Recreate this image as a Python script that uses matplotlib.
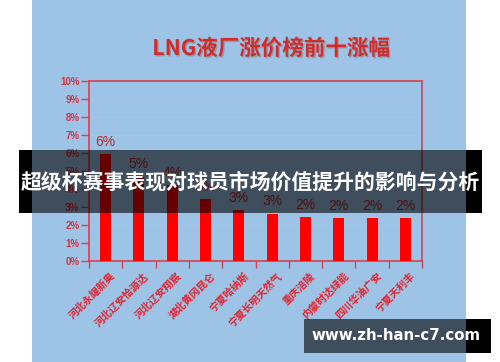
import matplotlib
matplotlib.use('Agg')
import matplotlib.pyplot as plt
import matplotlib.patheffects as pe
from matplotlib.patches import Rectangle
import numpy as np

plt.rcParams['font.family'] = ['Noto Sans CJK SC', 'DejaVu Sans']

# LNG plants, top ten price rises (%)
plants = ['河北永耀新奥', '河北辽安恰源达', '河北辽安翔宸', '湖北黄冈昆仑', '宁夏哈纳斯',
          '宁夏长明天然气', '重庆涪陵', '内蒙时达绿能', '四川华油广安', '宁夏天利丰']
rise = [5.94, 4.67, 4.2, 3.44, 2.83, 2.63, 2.43, 2.37, 2.37, 2.37]
yticks = [0, 1, 2, 3, 4, 5, 6, 7, 8, 9, 10]

title = 'LNG液厂涨价榜前十涨幅'
banner = '超级杯赛事表现对球员市场价值提升的影响与分析'
site = 'www.zh-han-c7.com'

blue = '#9DC3E6'
frame = '#D8404C'

fig = plt.figure(figsize=(5, 3.62), dpi=100, facecolor='white')
fig.patches.append(Rectangle((0.064, 0), 0.868, 1, transform=fig.transFigure,
                             facecolor=blue, edgecolor='none', zorder=-2))

ax = fig.add_axes([0.178, 0.279, 0.666, 0.497])
ax.set_facecolor('none')
x = np.arange(len(plants))
bars = ax.bar(x, rise, width=0.33, color='#FF0000', zorder=3)
for xi, v in zip(x, rise):
    ax.annotate('%.0f%%' % v, (xi, v), xytext=(0, 4), textcoords='offset points',
                ha='center', va='bottom', fontsize=10, color='#B82828',
                family=['Liberation Sans', 'DejaVu Sans'])

ax.set_xlim(-0.5, len(plants) - 0.5)
ax.set_ylim(0, 10)
ax.set_yticks(yticks)
ax.set_yticklabels(['%d%%' % t for t in yticks], fontsize=7, fontweight='bold',
                   color='#D8303C', family=['Liberation Sans', 'DejaVu Sans'])
ax.set_xticks(x)
ax.set_xticklabels(plants, rotation=45, ha='right', va='top', rotation_mode='anchor',
                   fontsize=7.3, fontweight='bold', color='#E8202A')
ax.set_xticks(np.arange(-0.5, len(plants)), minor=True)
ax.tick_params(axis='x', which='major', length=0, pad=7)
ax.tick_params(axis='x', which='minor', length=5, color=frame, width=1)
ax.tick_params(axis='y', length=6, color=frame, width=1, pad=1)
for t in ax.get_xticklabels():
    t.set_transform(t.get_transform() + matplotlib.transforms.ScaledTranslation(3 / 72, 0, fig.dpi_scale_trans))
for s in ax.spines.values():
    s.set_color(frame)
    s.set_linewidth(1.2)
ax.grid(axis='y', color='#A3C7E8', linewidth=0.6, zorder=0)
ax.set_axisbelow(True)

fig.text(0.542, 0.866, title, ha='center', va='center', fontsize=15.5, fontweight='bold',
         color='#D42A2A',
         path_effects=[pe.withSimplePatchShadow(offset=(1, -1), shadow_rgbFace='#7A7A7A', alpha=0.5)])

# overlay banner across the middle
fig.patches.append(Rectangle((0.038, 0.4116), 0.026, 0.174, transform=fig.transFigure,
                             facecolor='black', edgecolor='none', zorder=5))
fig.patches.append(Rectangle((0.932, 0.4116), 0.032, 0.174, transform=fig.transFigure,
                             facecolor='black', edgecolor='none', zorder=5))
fig.patches.append(Rectangle((0.064, 0.4116), 0.868, 0.174, transform=fig.transFigure,
                             facecolor='black', alpha=0.6, edgecolor='none', zorder=5))
fig.text(0.5, 0.497, banner, ha='center', va='center', fontsize=15, fontweight='bold',
         color='white', zorder=6)

# site badge bottom right
fig.patches.append(Rectangle((0.932, 0.0249), 0.05, 0.094, transform=fig.transFigure,
                             facecolor='black', edgecolor='none', zorder=5))
fig.patches.append(Rectangle((0.608, 0.0249), 0.324, 0.094, transform=fig.transFigure,
                             facecolor='black', alpha=0.6, edgecolor='none', zorder=5))
fig.text(0.793, 0.072, site, ha='center', va='center', fontsize=10.8, fontweight='bold',
         color='white', family=['DejaVu Sans'], zorder=6)

plt.savefig('out.png', dpi=100, facecolor='white')
